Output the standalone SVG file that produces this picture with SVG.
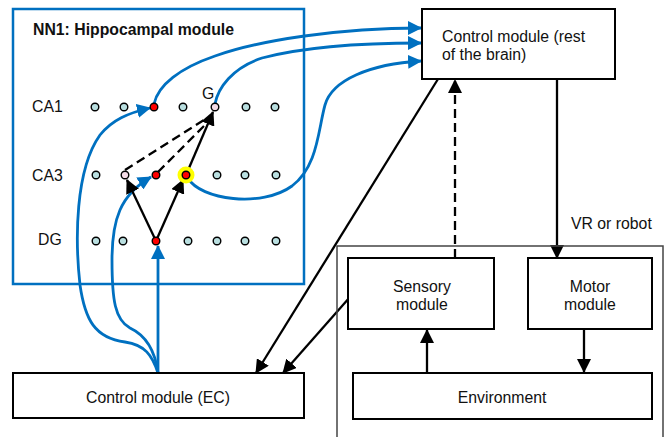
<svg xmlns="http://www.w3.org/2000/svg" width="668" height="437" viewBox="0 0 668 437">
<style>
text{font-family:"Liberation Sans",Arial,sans-serif;font-size:15.8px;fill:#111}
.b{fill:#fff;stroke:#000;stroke-width:2}
.blue{fill:none;stroke:#0070C0;stroke-width:2.8}
.blk{fill:none;stroke:#000;stroke-width:2.3}
.dash{stroke-dasharray:9,5}
.d{fill:#b9dfe0;stroke:#000;stroke-width:1.4}
.r{fill:#f00;stroke:#000;stroke-width:1.4}
.p{fill:#f4dbe6;stroke:#000;stroke-width:1.4}
</style>
<defs>
<marker id="ak" viewBox="0 0 14 14" refX="13" refY="7" markerWidth="14" markerHeight="14" orient="auto" markerUnits="userSpaceOnUse"><path d="M0,0 L14,7 L0,14 z" fill="#000"/></marker>
<marker id="au" viewBox="0 0 14 14" refX="13" refY="7" markerWidth="14" markerHeight="14" orient="auto" markerUnits="userSpaceOnUse"><path d="M0,0 L14,7 L0,14 z" fill="#0070C0"/></marker>
</defs>

<g id="hippocampal-module">
<rect x="13" y="9" width="291" height="275" fill="#fff" stroke="#0070C0" stroke-width="2.5"/>
<text x="33" y="35" font-weight="bold">NN1: Hippocampal module</text>
<text x="32" y="112">CA1</text>
<text x="32" y="181">CA3</text>
<text x="38" y="245">DG</text>
<text x="202" y="99">G</text>
</g>

<g id="connectors">
<path class="blue" d="M154,104 C158,85 180,68 215,56 C260,40 340,28 421,28" marker-end="url(#au)"/>
<path class="blue" d="M215,104 C218,88 232,68 262,58 C300,48 350,43 421,43" marker-end="url(#au)"/>
<path class="blue" d="M188,178 C200,200 262,208 292,186 C318,166 318,130 325,105 C332,80 370,64 421,61" marker-end="url(#au)"/>
<path class="blue" d="M158,373 C152,355 145,345 125,342 C95,338 85,320 80,285 C75,240 75,170 100,135 C112,120 128,113 150,108" marker-end="url(#au)"/>
<path class="blue" d="M158,373 C155,350 145,335 130,328 C115,320 112,300 112,260 C112,220 120,195 151,177" marker-end="url(#au)"/>
<path class="blue" d="M158,373 L158,246" marker-end="url(#au)"/>
<path class="blk" d="M156,241 L127,180" marker-end="url(#ak)"/>
<path class="blk" d="M156,241 L183,180" marker-end="url(#ak)"/>
<path class="blk" d="M186,175 L213,112" marker-end="url(#ak)"/>
<path class="blk dash" d="M125,170 L207,118"/>
<path class="blk dash" d="M158,172 L207,123"/>
<path class="blk" d="M438,79 L256,373" marker-end="url(#ak)"/>
<path class="blk" d="M350,297 L283,373" marker-end="url(#ak)"/>
<path class="blk dash" d="M455,258 L455,80" marker-end="url(#ak)"/>
<path class="blk" d="M557,79 L557,258" marker-end="url(#ak)"/>
<path class="blk" d="M427,373 L427,330" marker-end="url(#ak)"/>
<path class="blk" d="M584,329 L584,372" marker-end="url(#ak)"/>
</g>

<g id="neurons">
<circle cx="186" cy="175" r="8.5" fill="#ff0"/>
<circle class="d" cx="95" cy="107" r="3.8"/>
<circle class="d" cx="124" cy="107" r="3.8"/>
<circle class="r" cx="154" cy="107" r="3.8"/>
<circle class="d" cx="183" cy="107" r="3.8"/>
<circle class="p" cx="215" cy="107" r="3.8"/>
<circle class="d" cx="246" cy="107" r="3.8"/>
<circle class="d" cx="275" cy="107" r="3.8"/>
<circle class="d" cx="96" cy="175" r="3.8"/>
<circle class="p" cx="125" cy="175" r="3.8"/>
<circle class="r" cx="156" cy="175" r="3.8"/>
<circle class="r" cx="186" cy="175" r="3.8"/>
<circle class="d" cx="217" cy="175" r="3.8"/>
<circle class="d" cx="245" cy="175" r="3.8"/>
<circle class="d" cx="276" cy="175" r="3.8"/>
<circle class="d" cx="96" cy="241" r="3.8"/>
<circle class="d" cx="123" cy="241" r="3.8"/>
<circle class="r" cx="156" cy="241" r="3.8"/>
<circle class="d" cx="188" cy="241" r="3.8"/>
<circle class="d" cx="217" cy="241" r="3.8"/>
<circle class="d" cx="245" cy="241" r="3.8"/>
<circle class="d" cx="276" cy="241" r="3.8"/>
</g>

<g id="control-brain">
<rect class="b" x="422" y="9" width="193" height="70"/>
<text x="442" y="42">Control module (rest</text>
<text x="442" y="60">of the brain)</text>
</g>

<g id="vr-robot">
<path d="M337,437 L337,246 L663,246 L663,437" fill="none" stroke="#444" stroke-width="1.5"/>
<text x="571" y="229">VR or robot</text>
</g>

<g id="sensory-module">
<rect class="b" x="348" y="258" width="146" height="71"/>
<text x="422" y="292" text-anchor="middle">Sensory</text>
<text x="422" y="310" text-anchor="middle">module</text>
</g>

<g id="motor-module">
<rect class="b" x="528" y="258" width="124" height="71"/>
<text x="590" y="292" text-anchor="middle">Motor</text>
<text x="590" y="310" text-anchor="middle">module</text>
</g>

<g id="environment">
<rect class="b" x="353" y="373" width="299" height="46"/>
<text x="502" y="403" text-anchor="middle">Environment</text>
</g>

<g id="control-ec">
<rect class="b" x="13" y="373" width="291" height="45"/>
<text x="158" y="403" text-anchor="middle">Control module (EC)</text>
</g>
</svg>
